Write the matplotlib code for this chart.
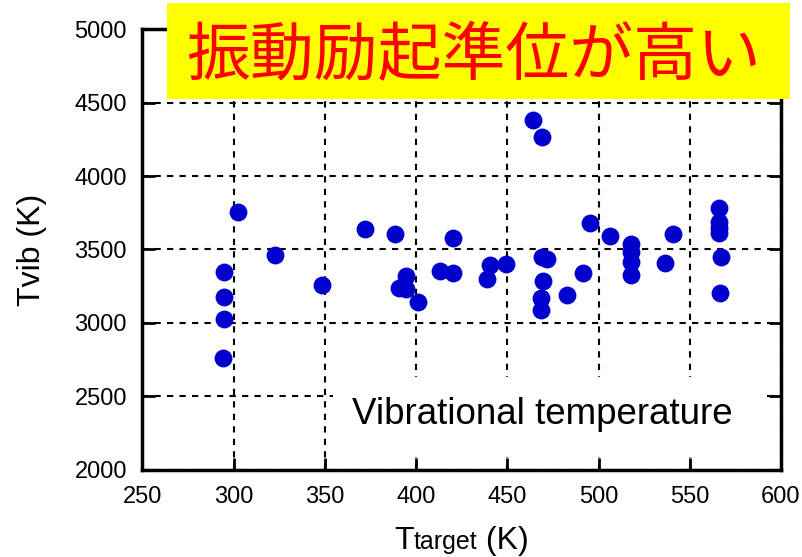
import matplotlib
matplotlib.use("Agg")
import matplotlib.pyplot as plt
from matplotlib.patches import Rectangle
from matplotlib.offsetbox import TextArea, HPacker, AnchoredOffsetbox

plt.rcParams['font.family'] = ['Liberation Sans', 'DejaVu Sans']

# データ
t_target = [302.2, 322.8, 294.5, 295.0, 294.6, 294.3, 348.3, 372.1, 388.6, 420.4,
            394.6, 390.4, 394.6, 401.1, 413.1, 420.2,
            464.3, 469.1, 495.2, 506.4, 517.6, 518.0, 518.0, 517.6, 540.6, 536.4,
            566.1, 566.1, 566.1, 566.1, 567.0, 566.8,
            469.2, 471.8, 469.4, 468.7, 468.7, 482.8, 491.6, 440.4, 438.7, 449.3]
t_vib = [3754, 3463, 3343, 3177, 3023, 2762, 3257, 3638, 3604, 3579,
         3320, 3238, 3227, 3139, 3350, 3336,
         4383, 4263, 3677, 3591, 3534, 3484, 3416, 3325, 3604, 3405,
         3779, 3688, 3643, 3609, 3450, 3204,
         3450, 3432, 3286, 3166, 3087, 3189, 3336, 3395, 3298, 3398]
x_ticks = [250, 300, 350, 400, 450, 500, 550, 600]
y_ticks = [2000, 2500, 3000, 3500, 4000, 4500, 5000]

fig = plt.figure(figsize=(8.02, 5.57), dpi=100)
ax = fig.add_axes([0.1775, 0.157, 0.7963, 0.7904])

ax.scatter(t_target, t_vib, s=165, color='#0000cc', zorder=3, linewidths=0)

ax.set_xlim(250, 600)
ax.set_ylim(2000, 5000)
ax.set_xticks(x_ticks)
ax.set_yticks(y_ticks)
ax.grid(True, color='black', linestyle=(0, (3, 3)), linewidth=1.5)
ax.tick_params(direction='in', length=9, width=2, top=True, right=True,
               labelsize=17)
ax.tick_params(axis='x', pad=12)
ax.tick_params(axis='y', pad=11)
for s in ax.spines.values():
    s.set_linewidth(2.5)

ax.set_ylabel('Tvib (K)', fontsize=23, labelpad=20)

# x軸ラベル: "target" は小さい文字で同じベースライン
xlab = HPacker(children=[TextArea('T', textprops=dict(fontsize=23)),
                         TextArea('target', textprops=dict(fontsize=18)),
                         TextArea(' (K)', textprops=dict(fontsize=23))],
               align='baseline', pad=0, sep=0)
anc = AnchoredOffsetbox(loc='center', child=xlab, frameon=False, pad=0,
                        bbox_to_anchor=(0.5755, 0.028), bbox_transform=fig.transFigure,
                        borderpad=0)
fig.add_artist(anc)

# 白い背景の注記
ax.add_patch(Rectangle((0.298, 0.028), 0.672, 0.182, transform=ax.transAxes,
                       facecolor='white', edgecolor='none', zorder=2))
ax.text(0.626, 0.125, 'Vibrational temperature', transform=ax.transAxes,
        fontsize=26.5, ha='center', va='center', zorder=4)

# 黄色の見出し
fig.patches.append(Rectangle((0.2079, 0.8217), 0.777, 0.1724, transform=fig.transFigure,
                             facecolor='#ffff00', edgecolor='none', zorder=5))
fig.text(0.591, 0.898, '振動励起準位が高い', fontsize=46, color='#ff0000',
         ha='center', va='center', zorder=6,
         family=['Noto Sans CJK JP', 'DejaVu Sans'])

fig.savefig('out.png', dpi=100)
